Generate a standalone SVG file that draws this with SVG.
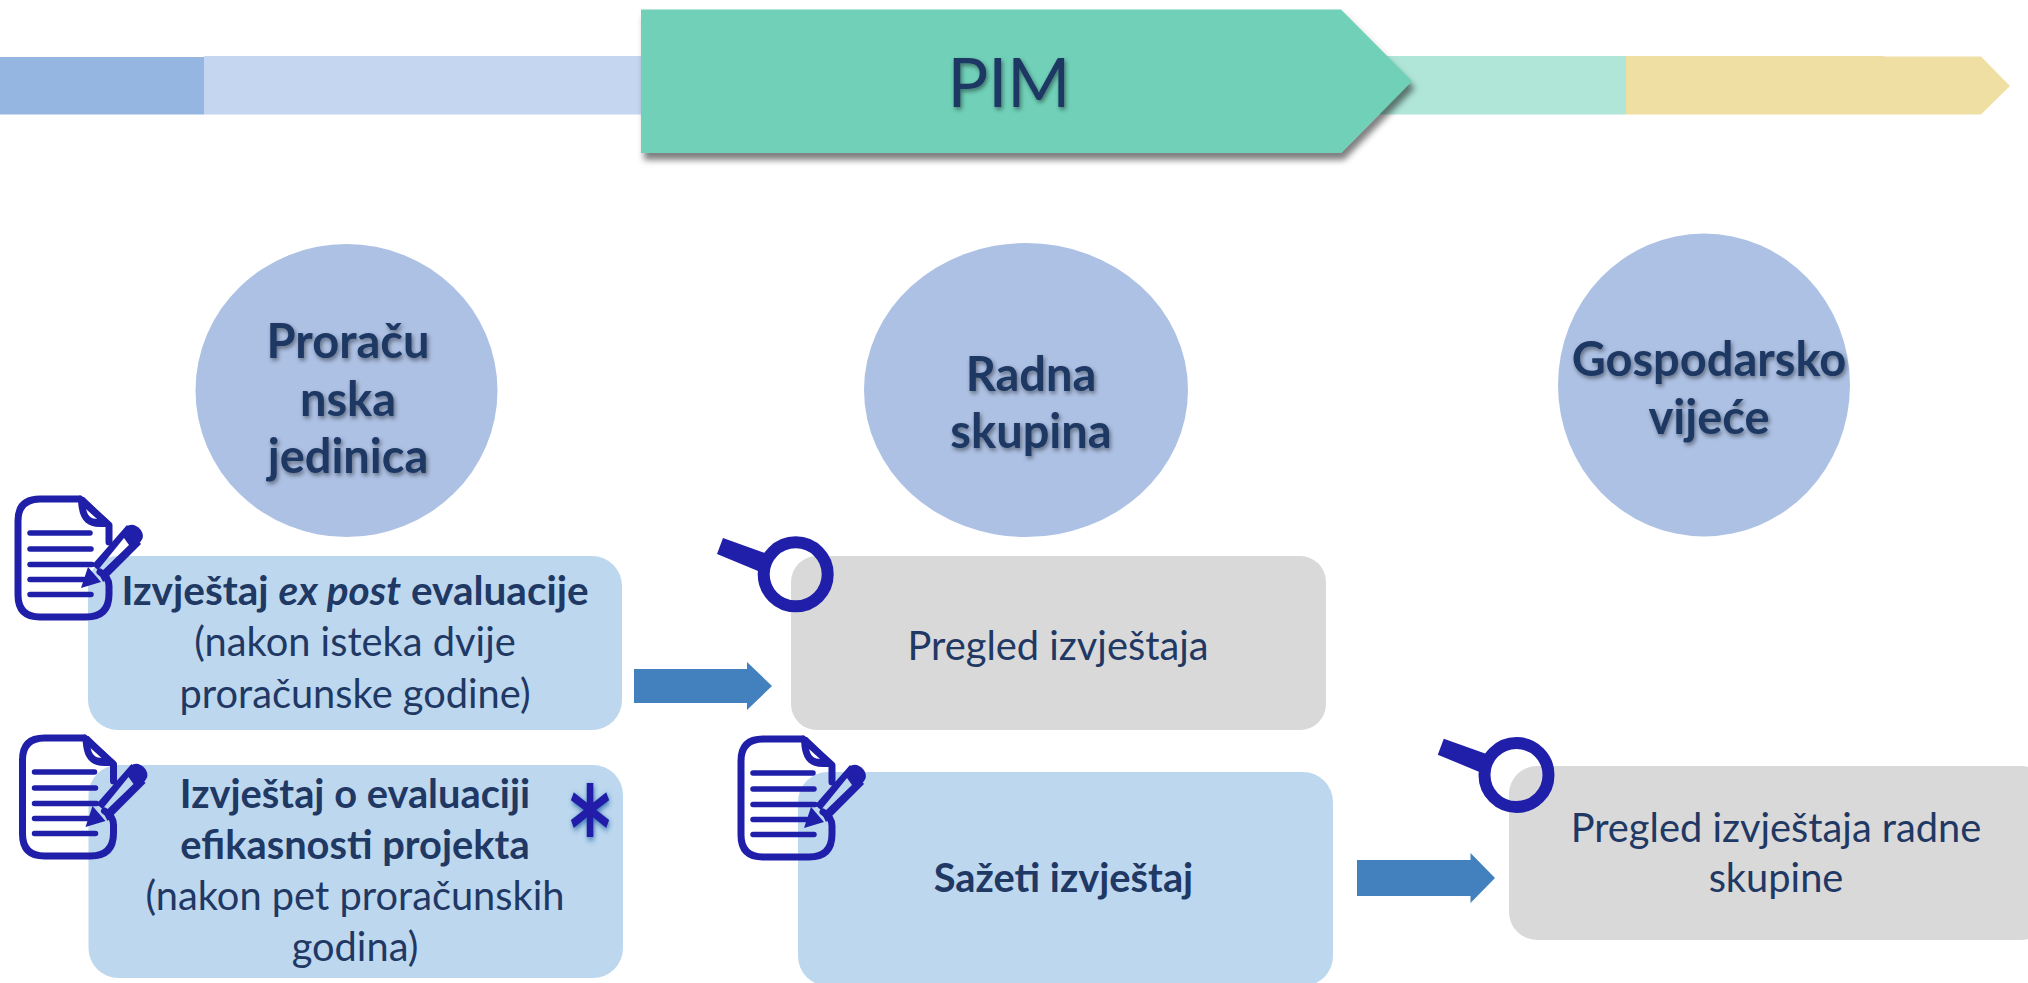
<svg xmlns="http://www.w3.org/2000/svg" xmlns:xlink="http://www.w3.org/1999/xlink" width="2028" height="983" viewBox="0 0 2028 983">
<style>
text{font-family:Lato,"Liberation Sans",sans-serif;fill:#1F3864;text-anchor:middle}
.b{font-size:39.800px}
.s{font-weight:700;font-size:40.500px}
.s2{font-weight:700;font-size:39.800px}
.t{font-size:47px;font-weight:700;filter:url(#ts)}
.box{fill:#BDD7EE}
.gray{fill:#D9D9D9}
.circ{fill:#ADC1E4}
.arrow{fill:#4281BE}
.ic{fill:none;stroke:#201FA9;stroke-width:7;stroke-linecap:round;stroke-linejoin:round}
.il{fill:none;stroke:#201FA9;stroke-width:5.500;stroke-linecap:round}
.f{fill:#201FA9}
</style>
<defs>
<filter id="ts" x="-20%" y="-20%" width="140%" height="150%"><feDropShadow dx="1.500" dy="2.500" stdDeviation="2" flood-color="#000" flood-opacity=".45"/></filter>
<filter id="ps" x="-5%" y="-10%" width="110%" height="125%"><feDropShadow dx="3" dy="7" stdDeviation="3" flood-color="#000" flood-opacity=".5"/></filter>
<filter id="as" x="-30%" y="-30%" width="160%" height="160%"><feDropShadow dx="1" dy="2" stdDeviation="2.500" flood-color="#1F5FA8" flood-opacity=".85"/></filter>
<g id="doc">
<path class="ic" d="M80 499H40Q18 499 18 521V595Q18 617 40 617H86Q109 617 109 594V586Q109 577 100 572M80 499L109 525V542"/>
<path class="f" d="M78 497C78 517 84 527 100 527L112 527L108 520L84 497ZM86 508L98 519C91 519 87 516 86 508Z" fill-rule="evenodd"/>
<path class="il" d="M30 533H90M30 549H91M30 564.500H92M30 579.500H84M30 594.500H91"/>
<path class="f" d="M81 588L88 567L101 582Z"/>
<path class="f" d="M92 565L127 525L141 544L103 582L99 574L129 545L124 538L98 570Z"/>
<path class="f" d="M126 527C131 523 136 525 140 529C144 534 144 539 139 543L135 546L124 533Z"/>
</g>
<g id="lens">
<circle cx="795.700" cy="574.300" r="32" fill="none" stroke="#201FA9" stroke-width="12"/>
<path class="f" d="M723 538L717 554L758 571L765 553Z"/>
</g>
</defs>
<g id="timeline">
<rect x="0" y="57" width="204" height="57.500" fill="#95B6E0"/>
<rect x="204" y="56" width="440" height="58.500" fill="#C5D6F0"/>
<rect x="1380" y="56" width="246" height="58.500" fill="#B0E6D8"/>
<path d="M1626 56H1884V56.500H1981L2010 86L1981 114.500H1626Z" fill="#F0DFA3"/>
</g>
<g id="pim">
<path d="M641 9.500H1341L1412 81L1341 153H641Z" fill="#6FD0B8" filter="url(#ps)"/>
<text x="1009" y="107" font-size="68" style="filter:url(#ts)">PIM</text>
</g>
<g id="n-proracunska">
<ellipse class="circ" cx="346.500" cy="390.500" rx="151" ry="146.500"/>
<text class="t" x="348" y="358">Proraču</text><text class="t" x="348" y="416">nska</text><text class="t" x="348" y="473">jedinica</text>
</g>
<g id="n-radna">
<ellipse class="circ" cx="1026" cy="390" rx="162" ry="147"/>
<text class="t" x="1031" y="391">Radna</text><text class="t" x="1031" y="448">skupina</text>
</g>
<g id="n-gospodarsko">
<ellipse class="circ" cx="1704" cy="385" rx="146" ry="151.500"/>
<text class="t" x="1709" y="376">Gospodarsko</text><text class="t" x="1709" y="434">vijeće</text>
</g>
<g id="n-expost">
<rect class="box" x="88" y="556" width="534" height="174" rx="30"/>
<text class="b" x="355" y="605"><tspan class="s">Izvještaj </tspan><tspan class="s" font-style="italic">ex post</tspan><tspan class="s"> evaluacije</tspan></text>
<text class="b" x="355" y="656">(nakon isteka dvije</text>
<text class="b" x="355" y="708">proračunske godine)</text>
</g>
<g id="n-efikasnost">
<rect class="box" x="88.500" y="765" width="534.500" height="213" rx="30"/>
<text class="s2" x="355" y="808">Izvještaj o evaluaciji</text>
<text class="s2" x="355" y="859">efikasnosti projekta</text>
<text class="b" x="355" y="910">(nakon pet proračunskih</text>
<text class="b" x="355" y="961">godina)</text>
<text x="590" y="852" font-size="98" font-weight="700" transform="translate(590 815.500) scale(.81 1.18) translate(-590 -806.500)" style="font-family:'DejaVu Sans',sans-serif;fill:#201FA9;filter:url(#as)">*</text>
</g>
<g id="n-pregled">
<rect class="gray" x="791" y="556" width="535" height="174" rx="26"/>
<text class="b" x="1058" y="660">Pregled izvještaja</text>
</g>
<g id="n-sazeti">
<rect class="box" x="798" y="772" width="535" height="214" rx="30"/>
<text class="s2" x="1063.500" y="892">Sažeti izvještaj</text>
</g>
<g id="n-pregled2">
<rect class="gray" x="1509" y="766" width="540" height="174" rx="28"/>
<text class="b" x="1776" y="842">Pregled izvještaja radne</text>
<text class="b" x="1776" y="892">skupine</text>
</g>
<g id="connectors">
<path class="arrow" d="M634 669H747V662L772 686L747 710V703H634Z"/>
<path class="arrow" d="M1357 860H1470.500V853L1495 878L1470.500 903V896H1357Z"/>
</g>
<g id="icons">
<use xlink:href="#doc" href="#doc"/>
<use xlink:href="#doc" href="#doc" x="4.500" y="239"/>
<use xlink:href="#doc" href="#doc" x="723" y="240"/>
<use xlink:href="#lens" href="#lens"/>
<use xlink:href="#lens" href="#lens" x="720.800" y="200.700"/>
</g>
</svg>
